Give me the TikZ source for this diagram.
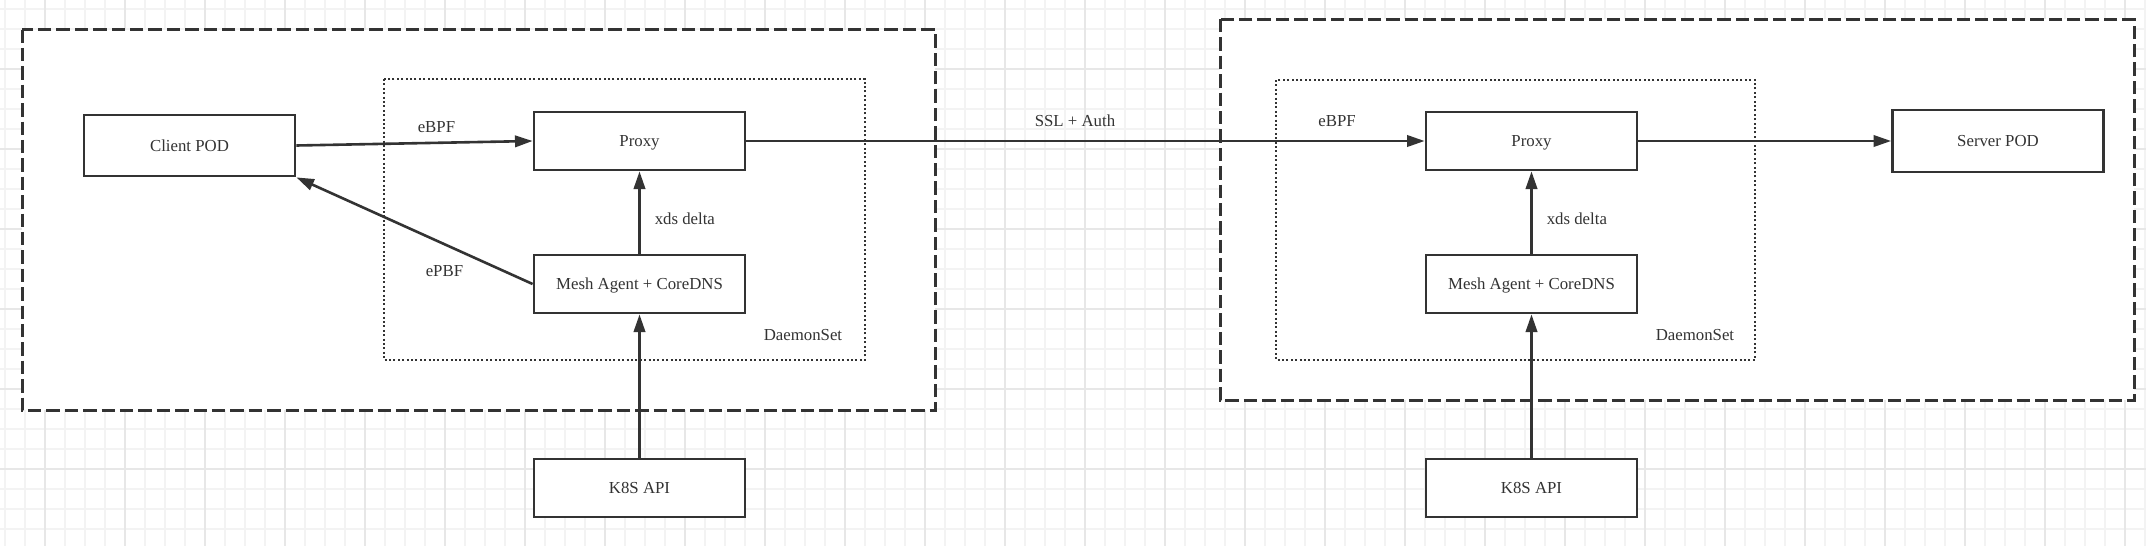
\documentclass[tikz,border=0pt]{standalone}
\usepackage{fontspec}
\setmainfont{Liberation Serif}
\usetikzlibrary{arrows.meta}

\definecolor{inkgray}{HTML}{333333}
\definecolor{gridminor}{HTML}{F3F3F3}
\definecolor{gridmajor}{HTML}{E7E7E7}

\tikzset{every picture/.style={line width=0.75pt}}
\tikzset{
    podbox/.style={draw=inkgray, line width=1.4pt, fill=white, minimum width=105.5pt, minimum height=29pt, inner sep=0pt, text depth=0pt, text=inkgray, font=\fontsize{8.4}{10}\selectfont},
    flowline/.style={draw=inkgray, line width=1.3pt, -{Triangle[length=8.8pt,width=5.7pt]}},
    edgelabel/.style={anchor=west, inner sep=0pt, text=inkgray, font=\fontsize{8.4}{10}\selectfont},
    hostframe/.style={draw=inkgray, line width=1.5pt, fill=white, dash pattern=on 6.7pt off 2.5pt},
    setframe/.style={draw=inkgray, line width=1pt, dash pattern=on 1pt off 1.2pt},
    gridthin/.style={draw=gridminor, line width=0.75pt},
    gridthick/.style={draw=gridmajor, line width=1pt}
}

\begin{document}
\begin{tikzpicture}[x=0.5pt,y=0.5pt,yscale=-1,xscale=1]
        \useasboundingbox (0,0) rectangle (2146,546);

        %Grid
        \foreach \x in {5,25,...,2145} \draw[gridthin] (\x,0) -- (\x,546);
        \foreach \y in {9,29,...,545} \draw[gridthin] (0,\y) -- (2146,\y);
        \foreach \x in {45,125,...,2125} \draw[gridthick] (\x,0) -- (\x,546);
        \foreach \y in {69,149,...,469} \draw[gridthick] (0,\y) -- (2146,\y);

        %Shape: Rectangle [client host]
        \draw[hostframe] (22,29.5) rectangle (935,410);
        %Shape: Rectangle [server host]
        \draw[hostframe] (1220,19) rectangle (2134,400);
        %Shape: Rectangle [daemonset, left]
        \draw[setframe] (384,79) rectangle (865,360);
        %Shape: Rectangle [daemonset, right]
        \draw[setframe] (1276,80) rectangle (1755,360);

        %Boxes
        \node[podbox, minimum height=30.5pt] (clientPod) at (189.5,145.5) {Client POD};
        \node[podbox] (proxyL) at (639.5,141) {Proxy};
        \node[podbox] (meshL) at (639.5,284) {Mesh Agent + CoreDNS};
        \node[podbox] (apiL) at (639.5,488) {K8S API};
        \node[podbox] (proxyR) at (1531.5,141) {Proxy};
        \node[podbox] (meshR) at (1531.5,284) {Mesh Agent + CoreDNS};
        \node[podbox] (apiR) at (1531.5,488) {K8S API};
        \node[podbox, minimum height=31pt] (serverPod) at (1998,141) {Server POD};

        %Straight Lines
        \draw[flowline] (clientPod.east) -- (proxyL.west);
        \draw[flowline] (meshL.west) -- (clientPod.south east);
        \draw[flowline] (meshL) -- (proxyL);
        \draw[flowline] (apiL) -- (meshL);
        \draw[flowline] (proxyL.east) -- (proxyR.west);
        \draw[flowline] (proxyR) -- (serverPod);
        \draw[flowline] (meshR) -- (proxyR);
        \draw[flowline] (apiR) -- (meshR);

        % Text Node
        \node[edgelabel] (ebpfL) at (417,127) {eBPF};
        % Text Node
        \node[edgelabel] (epbfL) at (425,271) {ePBF};
        % Text Node
        \node[edgelabel] (xdsL) at (654,219) {xds delta};
        % Text Node
        \node[edgelabel] (daemonL) at (763,335) {DaemonSet};
        % Text Node
        \node[edgelabel] (sslAuth) at (1034,121) {SSL + Auth};
        % Text Node
        \node[edgelabel] (ebpfR) at (1317.6,121) {eBPF};
        % Text Node
        \node[edgelabel] (xdsR) at (1546,219) {xds delta};
        % Text Node
        \node[edgelabel] (daemonR) at (1655,335) {DaemonSet};

\end{tikzpicture}
\end{document}
